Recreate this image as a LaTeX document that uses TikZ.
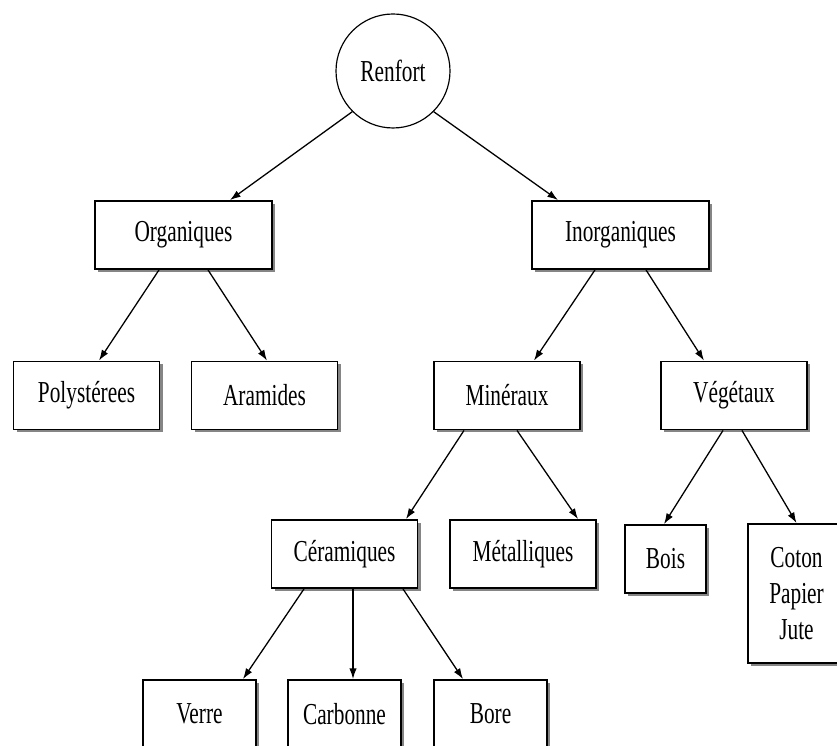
\documentclass[tikz,border=0pt]{standalone}
\usepackage{fontspec}
\setmainfont{Liberation Serif}[FakeStretch=0.7]
\usetikzlibrary{arrows.meta, positioning, shadows}

\begin{document}
\begin{tikzpicture}[
    font=\fontsize{26}{31}\selectfont,
    box/.style={draw, rectangle, line width=1.6pt, fill=white, minimum height=2.04cm, minimum width=4.38cm, align=center,
        drop shadow={shadow xshift=0.9mm, shadow yshift=-0.9mm, fill=black!60, opacity=0.8}},
    root/.style={draw, circle, line width=1pt, minimum size=3.42cm},
    arrow/.style={-{Latex[length=3.2mm, width=2.2mm]}, line width=1.1pt}
]
\useasboundingbox (0,0) rectangle (25.11,22.38);

% Root
\node[root] (ren) at (11.79,20.25) {Renfort};

% First level
\node[box, minimum width=5.31cm] (org) at (5.505,15.33) {Organiques};
\node[box, minimum width=5.31cm] (inorg) at (18.615,15.33) {Inorganiques};

\draw[arrow] (ren.225) -- ([xshift=13.95mm]org.north);
\draw[arrow] (ren.315) -- ([xshift=-18.75mm]inorg.north);

% Second level
\node[box] (pol) at (2.595,10.515) {Polystérees};
\node[box] (ara) at (7.935,10.515) {Aramides};
\node[box] (min) at (15.21,10.515) {Minéraux};
\node[box] (veg) at (22.02,10.515) {Végétaux};

\draw[arrow] ([xshift=-7.35mm]org.south) -- ([xshift=3.75mm]pol.north);
\draw[arrow] ([xshift=7.35mm]org.south) -- ([xshift=0.75mm]ara.north);
\draw[arrow] ([xshift=-7.65mm]inorg.south) -- ([xshift=8.1mm]min.north);
\draw[arrow] ([xshift=7.65mm]inorg.south) -- ([xshift=-9mm]veg.north);

% Third level
\node[box] (cer) at (10.335,5.76) {Céramiques};
\node[box] (met) at (15.69,5.76) {Métalliques};
\node[box, minimum width=2.43cm] (bois) at (19.965,5.61) {Bois};
\node[box, minimum width=2.91cm, minimum height=4.17cm] (coton) at (23.895,4.575) {Coton\\Papier\\Jute};

\draw[arrow] ([xshift=-12.9mm]min.south) -- ([xshift=18.45mm]cer.north);
\draw[arrow] ([xshift=3mm]min.south) -- ([xshift=16.5mm]met.north);
\draw[arrow] ([xshift=-3.3mm]veg.south) -- ([xshift=-0.45mm]bois.north);
\draw[arrow] ([xshift=2.4mm]veg.south) -- (coton.north);

% Fourth level
\node[box, minimum width=3.39cm] (verre) at (5.985,0.96) {Verre};
\node[box, minimum width=3.39cm] (carb) at (10.335,0.96) {Carbonne};
\node[box, minimum width=3.39cm] (bore) at (14.715,0.96) {Bore};

\draw[arrow] ([xshift=-12.15mm]cer.south) -- ([xshift=13.05mm]verre.north);
\draw[arrow] ([xshift=2.55mm]cer.south) -- ([xshift=2.55mm]carb.north);
\draw[arrow] ([xshift=17.55mm]cer.south) -- ([xshift=-8.25mm]bore.north);

\end{tikzpicture}
\end{document}
